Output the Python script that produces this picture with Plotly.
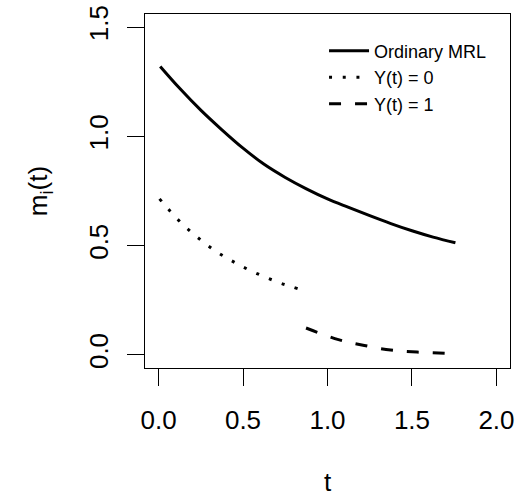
import plotly.graph_objects as go

# Ordinary MRL (solid)
t_mrl = [0.01, 0.125, 0.25, 0.375, 0.5, 0.625, 0.75, 0.875, 1.0, 1.125, 1.25, 1.375, 1.5, 1.625, 1.757]
m_mrl = [1.32, 1.22, 1.12, 1.03, 0.946, 0.872, 0.812, 0.760, 0.714, 0.675, 0.637, 0.601, 0.568, 0.539, 0.513]

# Y(t) = 0 (dotted)
t_y0 = [0.006, 0.059, 0.112, 0.169, 0.229, 0.292, 0.357, 0.426, 0.496, 0.569, 0.641, 0.716, 0.792, 0.869]
m_y0 = [0.714, 0.666, 0.621, 0.579, 0.539, 0.500, 0.465, 0.434, 0.404, 0.377, 0.353, 0.330, 0.311, 0.292]

# Y(t) = 1 (dashed)
t_y1 = [0.873, 1.065, 1.218, 1.374, 1.53, 1.73]
m_y1 = [0.123, 0.070, 0.043, 0.022, 0.013, 0.006]

x_ticks = [0.0, 0.5, 1.0, 1.5, 2.0]
x_ticklabels = ["0.0", "0.5", "1.0", "1.5", "2.0"]
y_ticks = [0.0, 0.5, 1.0, 1.5]
y_ticklabels = ["0.0", "0.5", "1.0", "1.5"]

FONT = "Liberation Sans, Arial, Helvetica, sans-serif"

fig = go.Figure()
fig.add_trace(go.Scatter(x=t_mrl, y=m_mrl, mode="lines", name="Ordinary MRL",
                         line=dict(color="black", width=3, shape="spline")))
fig.add_trace(go.Scatter(x=t_y0, y=m_y0, mode="lines", name="Y(t) = 0",
                         line=dict(color="black", width=3, dash="3px,10.7px", shape="spline")))
fig.add_trace(go.Scatter(x=t_y1, y=m_y1, mode="lines", name="Y(t) = 1",
                         line=dict(color="black", width=3, dash="12px,14px", shape="spline")))

W, H = 519, 500
L, R, T, B = 145, 5, 7, 132
pw, ph = W - L - R, H - T - B

fig.update_layout(
    width=W, height=H,
    margin=dict(l=L, r=R, t=T, b=B, pad=0),
    paper_bgcolor="white", plot_bgcolor="white",
    font=dict(family=FONT, color="black", size=26),
    showlegend=True,
    legend=dict(x=(326 - L) / pw, y=(H - B - 26) / ph, xanchor="left", yanchor="top",
                font=dict(size=18), bgcolor="rgba(0,0,0,0)", tracegroupgap=0,
                itemwidth=40),
    xaxis=dict(range=[-0.08, 2.08], tickvals=x_ticks, ticktext=x_ticklabels,
               showgrid=False, zeroline=False, showline=True, mirror=True,
               linecolor="black", linewidth=1, ticks="outside", ticklen=17,
               tickwidth=1, tickcolor="black", ticklabelstandoff=12,
               ticklabeloverflow="allow"),
    yaxis=dict(range=[-0.06, 1.56], tickvals=y_ticks, ticktext=y_ticklabels,
               showgrid=False, zeroline=False, showline=True, mirror=True,
               linecolor="black", linewidth=1, ticks="outside", ticklen=17,
               tickwidth=1, tickcolor="black", tickangle=-90, ticklabelstandoff=9,
               ticklabeloverflow="allow"),
    annotations=[
        dict(text="t", xref="paper", yref="paper", x=0.5, y=-(484 - (H - B)) / ph,
             xanchor="center", yanchor="middle", showarrow=False, font=dict(size=26)),
        dict(text="m<sub>i</sub>(t)", xref="paper", yref="paper", x=-(L - 38) / pw, y=0.5,
             xanchor="center", yanchor="middle", textangle=-90, showarrow=False,
             font=dict(size=26)),
    ],
)

fig.write_html("out.html", config={"displayModeBar": False},
               post_script="document.body.style.margin='0px';")
